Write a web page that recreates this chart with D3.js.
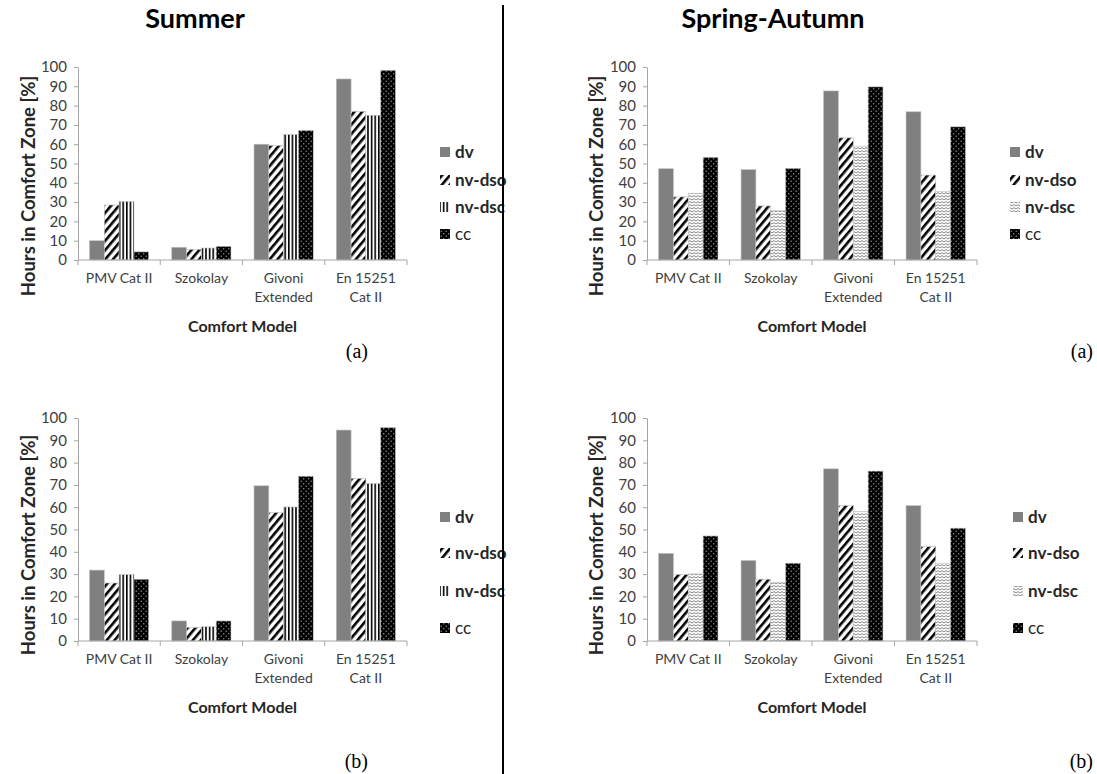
<!DOCTYPE html>
<html>
<head>
<meta charset="utf-8">
<script src="https://cdn.jsdelivr.net/npm/d3@7"></script>
<style>
  body { margin: 0; background: #fff; }
  text { font-family: Lato, "Open Sans", sans-serif; }
</style>
</head>
<body>
<div id="chart"></div>
<script>
var width = 1097;
var height = 774;

// categories and series
var models = ["PMV Cat II", "Szokolay", "Givoni\nExtended", "En 15251\nCat II"];
var seriesNames = ["dv", "nv-dso", "nv-dsc", "cc"];
var yTicks = [0, 10, 20, 30, 40, 50, 60, 70, 80, 90, 100];

// Summer (a)
var summerA_dv    = [10, 6.6, 60, 93.8];
var summerA_nvdso = [28.5, 5.5, 59.3, 77];
var summerA_nvdsc = [30.3, 6.2, 65, 75];
var summerA_cc    = [4.2, 7.1, 67.1, 98.3];

// Spring-Autumn (a)
var springA_dv    = [47.3, 46.8, 87.6, 76.8];
var springA_nvdso = [32.7, 28, 63.3, 44];
var springA_nvdsc = [34.6, 25.6, 59, 35.4];
var springA_cc    = [53.2, 47.5, 89.7, 69];

// Summer (b)
var summerB_dv    = [31.8, 9, 69.6, 94.6];
var summerB_nvdso = [26, 6.1, 57.6, 72.9];
var summerB_nvdsc = [29.8, 6.4, 60.1, 70.6];
var summerB_cc    = [27.7, 9, 73.9, 95.7];

// Spring-Autumn (b)
var springB_dv    = [39.3, 36.1, 77.2, 60.7];
var springB_nvdso = [29.8, 27.7, 60.7, 42.3];
var springB_nvdsc = [30.1, 26.4, 58, 34.9];
var springB_cc    = [47.1, 34.9, 76.2, 50.6];

var svg = d3.select("#chart")
  .append("svg")
  .attr("width", width)
  .attr("height", height);

// fill patterns
var defs = svg.append("defs");

var diag = defs.append("pattern")
  .attr("id", "diag")
  .attr("patternUnits", "userSpaceOnUse")
  .attr("width", 6).attr("height", 6)
  .attr("patternTransform", "rotate(40)");
diag.append("rect").attr("width", 6).attr("height", 6).attr("fill", "#fff");
diag.append("rect").attr("width", 2.6).attr("height", 6).attr("fill", "#000");

var vert = defs.append("pattern")
  .attr("id", "vert")
  .attr("patternUnits", "userSpaceOnUse")
  .attr("width", 3.6).attr("height", 4);
vert.append("rect").attr("width", 3.6).attr("height", 4).attr("fill", "#fff");
vert.append("rect").attr("width", 1.6).attr("height", 4).attr("fill", "#000");

var wave = defs.append("pattern")
  .attr("id", "wave")
  .attr("patternUnits", "userSpaceOnUse")
  .attr("width", 4).attr("height", 3);
wave.append("rect").attr("width", 4).attr("height", 3).attr("fill", "#fff");
wave.append("path")
  .attr("d", "M0,2 L2,0.6 L4,2")
  .attr("fill", "none")
  .attr("stroke", "#777")
  .attr("stroke-width", 0.9);

var dots = defs.append("pattern")
  .attr("id", "dots")
  .attr("patternUnits", "userSpaceOnUse")
  .attr("width", 5).attr("height", 5);
dots.append("rect").attr("width", 5).attr("height", 5).attr("fill", "#000");
dots.append("circle").attr("cx", 1.2).attr("cy", 1.2).attr("r", 0.7).attr("fill", "#999");
dots.append("circle").attr("cx", 3.7).attr("cy", 3.7).attr("r", 0.7).attr("fill", "#999");

var panels = [
  {x0: 78, x1: 407, top: 67, bottom: 260, legX: 440, legY: [152, 180, 207, 234], titleX: 28, titleY: 186,
   fills: ["#808080", "url(#diag)", "url(#vert)", "url(#dots)"],
   values: [summerA_dv, summerA_nvdso, summerA_nvdsc, summerA_cc]},
  {x0: 647, x1: 977, top: 67, bottom: 260, legX: 1010, legY: [152, 180, 207, 234], titleX: 596, titleY: 186,
   fills: ["#808080", "url(#diag)", "url(#wave)", "url(#dots)"],
   values: [springA_dv, springA_nvdso, springA_nvdsc, springA_cc]},
  {x0: 78, x1: 407, top: 418, bottom: 641, legX: 440, legY: [517, 553, 591, 628], titleX: 28, titleY: 545,
   fills: ["#808080", "url(#diag)", "url(#vert)", "url(#dots)"],
   values: [summerB_dv, summerB_nvdso, summerB_nvdsc, summerB_cc]},
  {x0: 647, x1: 977, top: 418, bottom: 641, legX: 1013, legY: [517, 553, 591, 628], titleX: 596, titleY: 545,
   fills: ["#808080", "url(#diag)", "url(#wave)", "url(#dots)"],
   values: [springB_dv, springB_nvdso, springB_nvdsc, springB_cc]}
];

panels.forEach(function(p) {
  var g = svg.append("g");

  var xScale = d3.scaleBand()
    .domain(models)
    .range([p.x0, p.x1]);

  var xInner = d3.scaleBand()
    .domain(seriesNames)
    .range([xScale.bandwidth() * 0.14, xScale.bandwidth() * 0.86]);

  var yScale = d3.scaleLinear()
    .domain([0, 100])
    .range([p.bottom, p.top]);

  // bars
  seriesNames.forEach(function(s, i) {
    g.selectAll(null)
      .data(p.values[i])
      .enter()
      .append("rect")
        .attr("x", function(d, j) { return xScale(models[j]) + xInner(s); })
        .attr("y", function(d) { return yScale(d); })
        .attr("width", xInner.bandwidth())
        .attr("height", function(d) { return p.bottom - yScale(d); })
        .attr("fill", p.fills[i])
        .attr("stroke", "#c0c0c0")
        .attr("stroke-width", 0.6);
  });

  // y axis
  var yAxis = g.append("g")
    .attr("transform", `translate(${p.x0},0)`)
    .call(d3.axisLeft(yScale).tickValues(yTicks).tickSize(4).tickPadding(7).tickSizeOuter(0));
  yAxis.select(".domain").attr("stroke", "#a6a6a6");
  yAxis.selectAll(".tick line").attr("stroke", "#a6a6a6");
  yAxis.selectAll(".tick text")
    .attr("fill", "#404040")
    .style("font-size", "15px")
    .style("font-family", "Lato, sans-serif");

  // x axis line with ticks at category boundaries
  g.append("line")
    .attr("x1", p.x0).attr("x2", p.x1)
    .attr("y1", p.bottom).attr("y2", p.bottom)
    .attr("stroke", "#a6a6a6");
  var bounds = models.map(function(m) { return xScale(m); }).concat([p.x1]);
  g.selectAll(null)
    .data(bounds)
    .enter()
    .append("line")
      .attr("x1", function(d) { return d; })
      .attr("x2", function(d) { return d; })
      .attr("y1", p.bottom)
      .attr("y2", p.bottom + 5)
      .attr("stroke", "#a6a6a6");

  // category labels
  models.forEach(function(m) {
    var t = g.append("text")
      .attr("x", xScale(m) + xScale.bandwidth() / 2)
      .attr("y", p.bottom + 23)
      .attr("text-anchor", "middle")
      .attr("fill", "#404040")
      .style("font-size", "14px");
    m.split("\n").forEach(function(line, k) {
      t.append("tspan")
        .attr("x", xScale(m) + xScale.bandwidth() / 2)
        .attr("dy", k === 0 ? 0 : 19)
        .text(line);
    });
  });

  // axis titles
  g.append("text")
    .attr("x", (p.x0 + p.x1) / 2)
    .attr("y", p.bottom + 72)
    .attr("text-anchor", "middle")
    .attr("fill", "#262626")
    .style("font-size", "16px")
    .style("font-weight", "bold")
    .text("Comfort Model");

  g.append("text")
    .attr("transform", `translate(${p.titleX + 7},${p.titleY}) rotate(-90)`)
    .attr("text-anchor", "middle")
    .attr("fill", "#262626")
    .style("font-size", "18.5px")
    .style("font-weight", "bold")
    .text("Hours in Comfort Zone [%]");

  // legend
  seriesNames.forEach(function(s, i) {
    g.append("rect")
      .attr("x", p.legX)
      .attr("y", p.legY[i] - 5)
      .attr("width", 10)
      .attr("height", 10)
      .attr("fill", p.fills[i]);
    g.append("text")
      .attr("x", p.legX + 15)
      .attr("y", p.legY[i] + 6)
      .attr("fill", "#262626")
      .style("font-size", "17px")
      .style("font-weight", s === "cc" ? "normal" : "bold")
      .text(s);
  });
});

// column titles
svg.append("text")
  .attr("x", 195).attr("y", 28)
  .attr("text-anchor", "middle")
  .style("font-size", "27px")
  .style("font-weight", "bold")
  .text("Summer");

svg.append("text")
  .attr("x", 773).attr("y", 28)
  .attr("text-anchor", "middle")
  .style("font-size", "27px")
  .style("font-weight", "bold")
  .text("Spring-Autumn");

// divider
svg.append("line")
  .attr("x1", 503).attr("x2", 503)
  .attr("y1", 5).attr("y2", height)
  .attr("stroke", "#000")
  .attr("stroke-width", 2);

// sub-figure letters
var letters = [
  {x: 368, y: 358, t: "(a)"},
  {x: 1093, y: 358, t: "(a)"},
  {x: 368, y: 768, t: "(b)"},
  {x: 1093, y: 768, t: "(b)"}
];
svg.selectAll(".letter")
  .data(letters)
  .enter()
  .append("text")
    .attr("class", "letter")
    .attr("x", function(d) { return d.x; })
    .attr("y", function(d) { return d.y; })
    .attr("text-anchor", "end")
    .style("font-family", "'Liberation Serif', serif")
    .style("font-size", "20px")
    .text(function(d) { return d.t; });
</script>
</body>
</html>
